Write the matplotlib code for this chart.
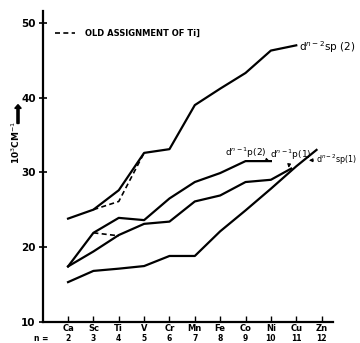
import matplotlib
matplotlib.use("Agg")
import matplotlib.pyplot as plt
from matplotlib.lines import Line2D

# element positions (n) and names
n_vals = [2, 3, 4, 5, 6, 7, 8, 9, 10, 11, 12]
elements = ["Ca", "Sc", "Ti", "V", "Cr", "Mn", "Fe", "Co", "Ni", "Cu", "Zn"]

# d^{n-2}sp(2)
top_x = [2, 3, 4, 5, 6, 7, 8, 9, 10, 11]
top_y = [23.8, 25.0, 27.6, 32.6, 33.1, 39.0, 41.2, 43.3, 46.3, 47.0]
top_old_x = [3, 4, 5]
top_old_y = [25.0, 26.1, 32.6]

# d^{n-1}p(2)
p2_x = [2, 3, 4, 5, 6, 7, 8, 9, 10]
p2_y = [17.4, 21.9, 23.9, 23.6, 26.5, 28.7, 29.9, 31.5, 31.5]
p2_old_x = [3, 4]
p2_old_y = [21.9, 21.5]

# d^{n-1}p(1)
p1_x = [2, 3, 4, 5, 6, 7, 8, 9, 10, 10.8]
p1_y = [17.4, 19.4, 21.6, 23.1, 23.4, 26.1, 26.9, 28.7, 29.0, 30.5]

# d^{n-2}sp(1)
sp1_x = [2, 3, 4, 5, 6, 7, 8, 9, 10, 11, 11.8]
sp1_y = [15.3, 16.8, 17.1, 17.45, 18.8, 18.8, 22.1, 24.9, 27.8, 30.8, 33.0]

f = plt.figure(figsize=(3.6, 3.43), dpi=100)
ax = f.add_axes([0.1186, 0.0621, 0.8064, 0.9059])

lw = 1.6
ax.plot(top_x, top_y, c="black", lw=lw)
ax.plot(top_old_x, top_old_y, c="black", lw=1.2, ls=(0, (3, 2)))
ax.plot(p2_x, p2_y, c="black", lw=lw)
ax.plot(p2_old_x, p2_old_y, c="black", lw=1.2, ls=(0, (3, 2)))
ax.plot(p1_x, p1_y, c="black", lw=lw)
ax.plot(sp1_x, sp1_y, c="black", lw=lw)

ax.set_xlim(1, 12.45)
ax.set_ylim(10, 51.6)
for s in ["top", "right"]:
    ax.spines[s].set_visible(False)
ax.spines["left"].set_linewidth(1.6)
ax.spines["bottom"].set_linewidth(1.6)

ax.set_xticks(n_vals)
ax.set_xticklabels(elements, fontsize=6, fontweight="bold")
ax.tick_params(axis="x", direction="in", length=4, width=1, pad=2)
ax.set_yticks([10, 20, 30, 40, 50])
ax.set_yticklabels(["10", "20", "30", "40", "50"], fontsize=7.5, fontweight="bold")
ax.tick_params(axis="y", direction="inout", length=6, width=1.2, pad=2)

# second row of tick labels (n = ...)
for n in n_vals:
    ax.text(n, -0.055, str(n), transform=ax.get_xaxis_transform(),
            ha="center", va="center", fontsize=5.5, fontweight="bold")
ax.text(0.95, -0.055, "n =", transform=ax.get_xaxis_transform(),
        ha="center", va="center", fontsize=5.5, fontweight="bold")

# y label with arrow
f.text(0.045, 0.585, r"10$^3$CM$^{-1}$", rotation=90, ha="center", va="center",
       fontsize=6.5, fontweight="bold")
f.patches.append(plt.Arrow(0.05, 0.64, 0, 0.055, width=0.03, color="black",
                           transform=f.transFigure, figure=f))

# legend
h = Line2D([0], [0], c="black", lw=1.2, ls=(0, (3, 2)))
ax.legend([h], ["OLD ASSIGNMENT OF Ti]"], loc="center left",
          bbox_to_anchor=(0.042, 0.929), frameon=False, borderpad=0,
          borderaxespad=0, handlelength=2.4, handletextpad=1.2,
          prop={"size": 6, "weight": "bold"})

# curve labels
ax.text(11.1, 46.3, r"d$^{n-2}$sp (2)", fontsize=7.5, ha="left", va="baseline")
ax.annotate(r"d$^{n-1}$p(2)", xy=(9.95, 31.5), xytext=(8.2, 32.2),
            fontsize=6.5, va="baseline",
            arrowprops=dict(arrowstyle="-|>", lw=0.8, color="black",
                            mutation_scale=5, shrinkA=0, shrinkB=0))
ax.annotate(r"d$^{n-1}$p(1)", xy=(10.7, 30.6), xytext=(9.95, 31.9),
            fontsize=6.5, va="baseline",
            arrowprops=dict(arrowstyle="-|>", lw=0.8, color="black",
                            mutation_scale=5, shrinkA=0, shrinkB=0))
ax.annotate(r"d$^{n-2}$sp(1)", xy=(11.5, 31.6), xytext=(11.78, 31.3),
            fontsize=5.8, va="baseline",
            arrowprops=dict(arrowstyle="-|>", lw=0.8, color="black",
                            mutation_scale=5, shrinkA=0, shrinkB=0))

f.savefig("out.png", dpi=100)
